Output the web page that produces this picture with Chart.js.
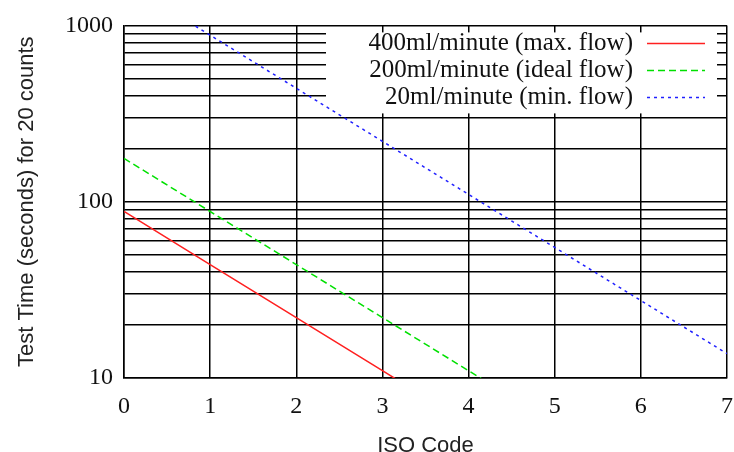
<!DOCTYPE html>
<html>
<head>
<meta charset="utf-8">
<script src="https://cdn.jsdelivr.net/npm/chart.js@4"></script>
<style>
  body { margin: 0; background: #fff; }
</style>
</head>
<body>
<canvas id="isoChart" width="734" height="452"></canvas>
<script>
// ISO code on x, test time on a log scale
let isoCodes = [0, 1, 2, 3, 4, 5, 6, 7]
let maxFlow = [88, 44, 22, 11, 5.5]            // 400ml/minute
let idealFlow = [176, 88, 44, 22, 11, 5.5]     // 200ml/minute
let minFlow = [1760, 880, 440, 220, 110, 55, 27.5, 13.75] // 20ml/minute

let seriesNames = ['400ml/minute (max. flow)', '200ml/minute (ideal flow)', '20ml/minute (min. flow)']
let yTicks = [10, 20, 30, 40, 50, 60, 70, 80, 90, 100, 200, 300, 400, 500, 600, 700, 800, 900, 1000]
let yLabels = [10, 100, 1000]
let xTicks = [0, 1, 2, 3, 4, 5, 6, 7]

let red = '#ff2020'
let green = '#00e000'
let blue = '#2020ff'

function pts(vals) {
    return vals.map((v, i) => ({ x: isoCodes[i], y: v }))
}

// gnuplot style key: white box over the grid, text left, sample line right
let keyBox = {
    id: 'keyBox',
    beforeDatasetsDraw(chart) {
        let a = chart.chartArea
        let c = chart.ctx
        c.save()
        c.fillStyle = '#fff'
        c.fillRect(a.left + 202, a.top + 7, 391, 81)
        c.restore()
    },
    afterDatasetsDraw(chart) {
        let a = chart.chartArea
        let c = chart.ctx
        c.save()
        c.font = '25px "Liberation Serif"'
        c.textAlign = 'right'
        c.textBaseline = 'middle'
        chart.data.datasets.forEach((ds, i) => {
            let y = a.top + 18 + i * 27
            c.fillStyle = '#111'
            c.fillText(seriesNames[i], a.left + 509, y)
            c.strokeStyle = ds.borderColor
            c.lineWidth = 1.5
            c.setLineDash(ds.borderDash || [])
            c.beginPath()
            c.moveTo(a.left + 523, y)
            c.lineTo(a.left + 581, y)
            c.stroke()
        })
        c.restore()
    }
}

var ctx = document.getElementById('isoChart').getContext('2d')

var chart = new Chart(ctx, {
    type: 'line',
    data: {
        datasets: [
            { label: seriesNames[0], data: pts(maxFlow), borderColor: red, borderWidth: 1.5, pointRadius: 0 },
            { label: seriesNames[1], data: pts(idealFlow), borderColor: green, borderWidth: 1.5, borderDash: [7, 4], pointRadius: 0 },
            { label: seriesNames[2], data: pts(minFlow), borderColor: blue, borderWidth: 1.5, borderDash: [3, 4], pointRadius: 0 }
        ]
    },
    options: {
        responsive: false,
        animation: false,
        layout: { padding: { top: 25, right: 7, left: 0, bottom: 0 } },
        plugins: { legend: { display: false }, tooltip: { enabled: false } },
        scales: {
            x: {
                type: 'linear',
                min: 0,
                max: 7,
                afterBuildTicks: s => { s.ticks = xTicks.map(v => ({ value: v })) },
                afterFit: s => { s.height = 74; s.paddingRight = 0; s.paddingLeft = 0 },
                grid: { color: '#000', lineWidth: 1.5, drawTicks: false },
                border: { color: '#000', width: 1.5 },
                ticks: { color: '#111', padding: 14, font: { family: 'Liberation Serif', size: 24 } },
                title: {
                    display: true, text: 'ISO Code', color: '#222',
                    padding: { top: 6, bottom: -7 },
                    font: { family: 'Liberation Sans', size: 22 }
                }
            },
            y: {
                type: 'logarithmic',
                min: 10,
                max: 1000,
                afterBuildTicks: s => { s.ticks = yTicks.map(v => ({ value: v })) },
                afterFit: s => { s.width = 124 },
                grid: { color: '#000', lineWidth: 1.5, drawTicks: false },
                border: { color: '#000', width: 1.5 },
                ticks: {
                    color: '#111', padding: 11, autoSkip: false,
                    font: { family: 'Liberation Serif', size: 24 },
                    callback: v => yLabels.includes(v) ? String(v) : ''
                },
                title: {
                    display: true, text: 'Test Time (seconds) for 20 counts', color: '#222',
                    padding: { top: 14, bottom: 0 },
                    font: { family: 'Liberation Sans', size: 22 }
                }
            }
        }
    },
    plugins: [keyBox]
})
</script>
</body>
</html>
